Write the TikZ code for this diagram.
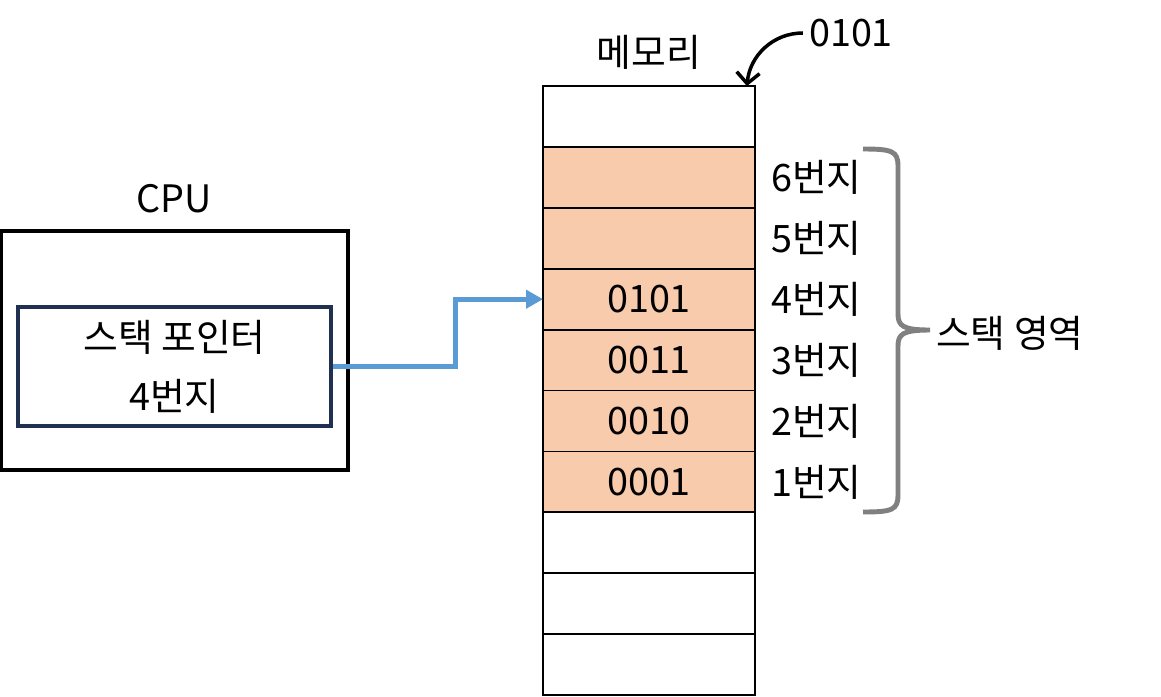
\documentclass[tikz,border=0pt]{standalone}
\usepackage{fontspec}
\setmainfont{Noto Sans CJK KR}
\usepackage{tikz}
\usetikzlibrary{arrows.meta, positioning, calc}
\definecolor{stackfill}{RGB}{248, 203, 173}
\definecolor{ptrblue}{RGB}{91, 155, 213}
\definecolor{regnavy}{RGB}{31, 48, 80}
\definecolor{bracegray}{RGB}{128, 128, 128}

\begin{document}
\begin{tikzpicture}[x=0.02cm, y=-0.02cm, font=\fontsize{21.5}{24}\selectfont,
    cell/.style={draw, line width=1pt, minimum width=4.24cm,
                 minimum height=1.218cm, inner sep=0pt, outer sep=0pt},
    stackcell/.style={cell, fill=stackfill},
    ptrarrow/.style={ptrblue, line width=3pt,
                     -{Triangle[length=0.34cm, width=0.36cm]}}]
    \useasboundingbox (0,0) rectangle (1161,697);
    % CPU and stack pointer register
    \node[draw, line width=2.2pt, minimum width=6.94cm,
          minimum height=4.78cm, inner sep=0pt] (cpu) at (174.5,350.5) {};
    \node (cpulbl) at (174,199) {CPU};
    \node[draw=regnavy, line width=1.8pt, minimum width=6.26cm,
          minimum height=2.38cm, inner sep=0pt, align=center,
          font=\fontsize{21.5}{33.5}\selectfont]
        (sp) at (174.5,366.5) {스택 포인터\\4번지};
    % memory
    \foreach \i/\sty/\val in {0/cell/{}, 1/stackcell/{}, 2/stackcell/{},
                              3/stackcell/0101, 4/stackcell/0011,
                              5/stackcell/0010, 6/stackcell/0001,
                              7/cell/{}, 8/cell/{}, 9/cell/{}}
        \node[\sty] (cell\i) at (649, 116.5+60.9*\i) {\val};
    \foreach \i/\n in {1/6, 2/5, 3/4, 4/3, 5/2, 6/1}
        \node[right=0.2cm of cell\i] (addr\n) {\n{}번지};
    \node (memlbl) at (649,52) {메모리};
    \node (toplbl) at (851,33) {0101};
    \draw[line width=2pt, -{Straight Barb[length=0.22cm, width=0.46cm]}]
        (toplbl.west) to[out=180, in=85] ([xshift=-0.16cm]cell0.north east);
    % pointer
    \draw[ptrarrow] (sp.east) -- ++(123,0) |- (cell3.west);
    % stack region brace
    \draw[bracegray, line width=2.8pt]
        (863,149) .. controls (892,149) and (898,151) .. (898,166)
        -- (898,314) .. controls (898,326) and (903,330) .. (930,330)
        (930,330) .. controls (903,330) and (898,334) .. (898,346)
        -- (898,495) .. controls (898,510) and (892,512) .. (863,512);
    \node[anchor=west] (stacklbl) at (930,333) {스택 영역};
\end{tikzpicture}
\end{document}
